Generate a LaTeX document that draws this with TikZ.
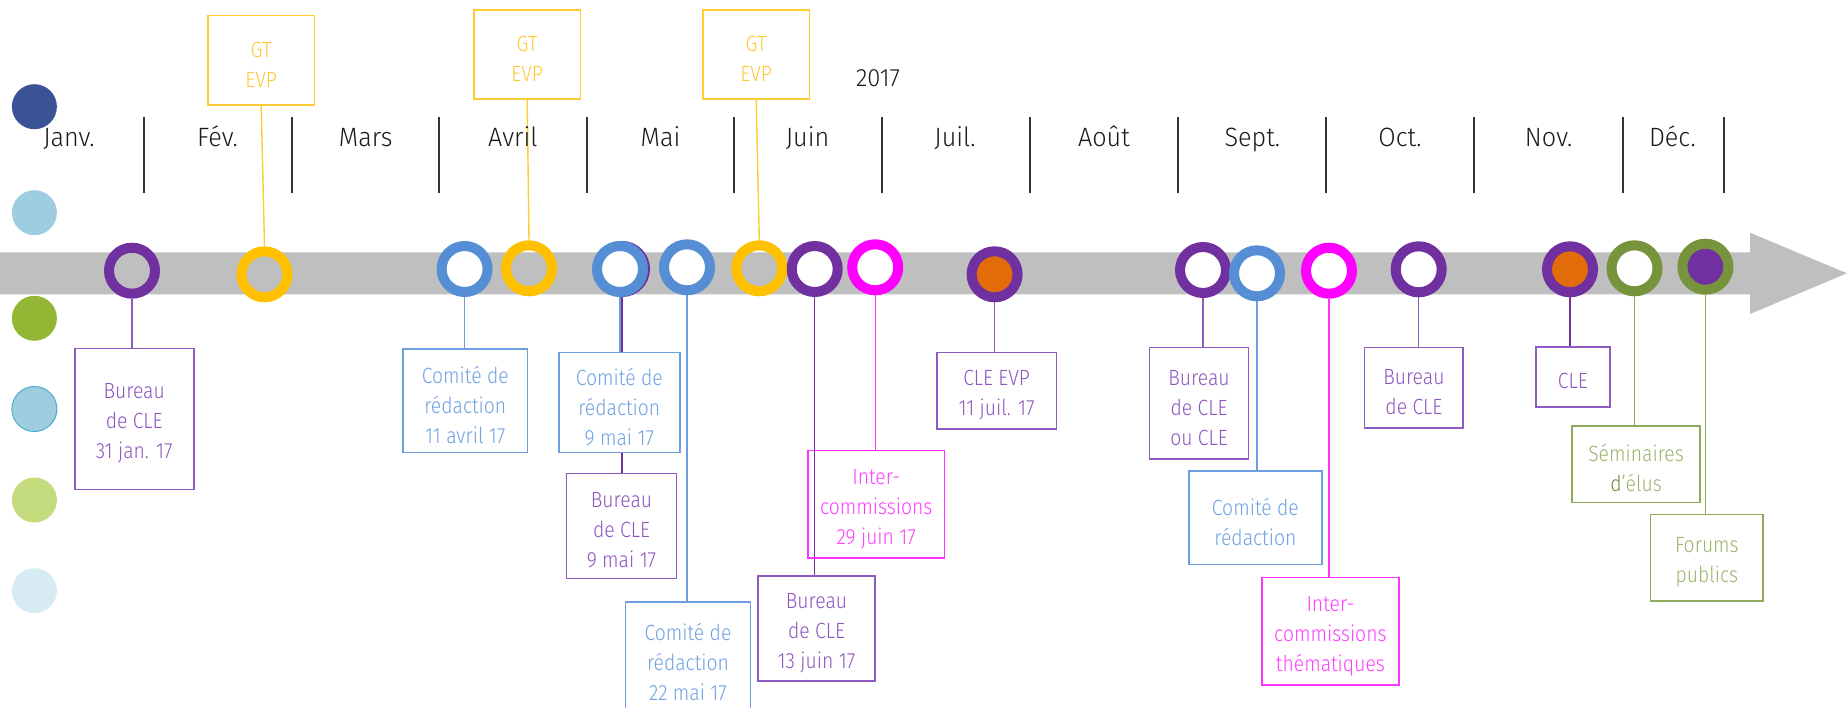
\documentclass[tikz,border=0pt]{standalone}
\usepackage{fontspec}
\setmainfont{Fira Sans Light}[FakeStretch=0.88]
\newfontfamily\monthfont{Fira Sans Light}[FakeStretch=0.95]
\usetikzlibrary{backgrounds}
\definecolor{purp}{HTML}{7030A0}
\definecolor{purpl}{HTML}{8E5CC0}
\definecolor{purpt}{HTML}{8D55BF}
\definecolor{blu}{HTML}{558ED5}
\definecolor{blul}{HTML}{6C9EE0}
\definecolor{blut}{HTML}{6FA2E2}
\definecolor{yel}{HTML}{FFC000}
\definecolor{yell}{HTML}{FFCC33}
\definecolor{yelt}{HTML}{FFC833}
\definecolor{mag}{HTML}{FF00FF}
\definecolor{magl}{HTML}{FF33FF}
\definecolor{magt}{HTML}{FF3DFF}
\definecolor{orng}{HTML}{E36C0A}
\definecolor{grn}{HTML}{77933C}
\definecolor{grnl}{HTML}{8FAA5C}
\definecolor{grnt}{HTML}{9CB46C}
\definecolor{grnd}{HTML}{6E8B2E}
\definecolor{barc}{HTML}{BFBFBF}
\definecolor{lgA}{HTML}{3A5396}
\definecolor{lgB}{HTML}{9ECDE0}
\definecolor{lgC}{HTML}{93B635}
\definecolor{lgD}{HTML}{9ECDE0}
\definecolor{lgDb}{HTML}{4BACC6}
\definecolor{lgE}{HTML}{C4DC7D}
\definecolor{lgF}{HTML}{D7EBF2}
\definecolor{monthc}{HTML}{1A1A1A}
\begin{document}
\begin{tikzpicture}[x=1pt,y=-1pt,
  ring/.style={circle, minimum size=46pt, inner sep=0pt, line width=10pt},
  box/.style={draw, line width=1.6pt, fill=white, inner sep=0pt},
  boxtxt/.style={align=center, inner sep=0pt, yshift=-4.5pt, font=\fontsize{22}{30}\selectfont},
  link/.style={line width=1.4pt},
  month/.style={anchor=base, font=\monthfont\fontsize{26.5}{30}\selectfont, text=monthc, inner sep=0pt},
  monthsep/.style={line width=2pt, black!80, dash pattern=on 1.5pt off 0.5pt},
  legend/.style={circle, minimum size=45pt, inner sep=0pt}]
\useasboundingbox (0,0) rectangle (1847,707);
\clip (0,0) rectangle (1847,707);

% timeline bar with arrow
\fill[barc] (0,252.3) -- (1750,252.3) -- (1750,232.7) -- (1847,273.3) -- (1750,314) -- (1750,294.3) -- (0,294.3) -- cycle;

% legend dots
\node[legend, fill=lgA] (l1) at (34.4,106.7) {};
\node[legend, fill=lgB] (l2) at (34.4,212.7) {};
\node[legend, fill=lgC] (l3) at (34.4,318.3) {};
\node[legend, fill=lgD, draw=lgDb, line width=1pt] (l4) at (34.4,409) {};
\node[legend, fill=lgE] (l5) at (34.4,500) {};
\node[legend, fill=lgF] (l6) at (34.4,590.7) {};

% month separators
\foreach \x in {144.3,291.8,438.9,586.8,734,882,1029.8,1177.7,1325.8,1474.4,1623,1724}
  \draw[monthsep] (\x,117) -- (\x,193);

% month names
\node[month] (m1) at (69,146.7) {Janv.};
\node[month] (m2) at (217.5,146.7) {Fév.};
\node[month] (m3) at (365.7,146.7) {Mars};
\node[month] (m4) at (512.8,146.7) {Avril};
\node[month] (m5) at (660.5,146.7) {Mai};
\node[month] (m6) at (807.6,146.7) {Juin};
\node[month] (m7) at (955,146.7) {Juil.};
\node[month] (m8) at (1104,146.7) {Août};
\node[month] (m9) at (1252.4,146.7) {Sept.};
\node[month] (m10) at (1400,146.7) {Oct.};
\node[month] (m11) at (1548.6,146.7) {Nov.};
\node[month] (m12) at (1672.4,146.7) {Déc.};
\node[month, font=\monthfont\fontsize{25}{30}\selectfont] (yr) at (878,86) {2017};

% rings
\node[ring, draw=purp] (r1) at (132,270.7) {};
\node[ring, draw=yel] (r2) at (264.5,274.3) {};
\node[ring, draw=blu, fill=white] (r3) at (464.6,269) {};
\node[ring, draw=yel] (r4) at (529,268.3) {};
\node[ring, draw=purp, fill=white] (r5p) at (622,269) {};
\node[ring, draw=blu, fill=white] (r5) at (620,269) {};
\node[ring, draw=blu, fill=white] (r6) at (687,267.3) {};
\node[ring, draw=yel] (r7) at (759.3,268.3) {};
\node[ring, draw=purp, fill=white] (r8) at (814.7,269) {};
\node[ring, draw=mag, fill=white] (r9) at (875.2,267.3) {};
\node[ring, draw=purp, fill=orng] (r10) at (994.6,274.3) {};
\node[ring, draw=purp, fill=white] (r11) at (1203,270) {};
\node[ring, draw=blu, fill=white] (r12) at (1257,273.3) {};
\node[ring, draw=mag, fill=white] (r13) at (1329,270.7) {};
\node[ring, draw=purp, fill=white] (r14) at (1418.7,269.3) {};
\node[ring, draw=purp, fill=orng] (r15) at (1570,269.3) {};
\node[ring, draw=grn, fill=white] (r16) at (1634.5,268.3) {};
\node[ring, draw=grn, fill=purp] (r17) at (1705.4,266.7) {};

% boxes (text set as centred label, lowered slightly)
\node[box, draw=yell, minimum width=106.4, minimum height=89.3, label={[boxtxt, text=yelt]center:{GT\\EVP}}] (g1) at (261.2,60.3) {};
\node[box, draw=yell, minimum width=106.4, minimum height=89.3, label={[boxtxt, text=yelt]center:{GT\\EVP}}] (g2) at (527.2,54.5) {};
\node[box, draw=yell, minimum width=106.4, minimum height=89.3, label={[boxtxt, text=yelt]center:{GT\\EVP}}] (g3) at (756.2,54.5) {};
\node[box, draw=purpl, minimum width=119, minimum height=141, label={[boxtxt, text=purpt]center:{Bureau\\de CLE\\31 jan. 17}}] (b1) at (134.2,418.9) {};
\node[box, draw=blul, minimum width=124.5, minimum height=103.6, label={[boxtxt, text=blut]center:{Comité de\\rédaction\\11 avril 17}}] (c11) at (465.3,400.5) {};
\node[box, draw=blul, minimum width=121.2, minimum height=99.8, label={[boxtxt, text=blut]center:{Comité de\\rédaction\\9 mai 17}}] (c9) at (619.3,402.4) {};
\node[box, draw=purpl, minimum width=109.7, minimum height=105, label={[boxtxt, text=purpt]center:{Bureau\\de CLE\\9 mai 17}}] (b9) at (621.5,525.8) {};
\node[box, draw=blul, minimum width=125.3, minimum height=112, label={[boxtxt, text=blut]center:{Comité de\\rédaction\\22 mai 17}}] (c22) at (688,657.7) {};
\node[box, draw=purpl, minimum width=116.6, minimum height=105, label={[boxtxt, text=purpt]center:{Bureau\\de CLE\\13 juin 17}}] (b13) at (816.5,628.5) {};
\node[box, draw=magl, fill=none, minimum width=136.4, minimum height=107.3, label={[boxtxt, text=magt]center:{Inter-\\commissions\\29 juin 17}}] (i29) at (876.2,504.3) {};
\node[box, draw=purpl, minimum width=119.4, minimum height=76.7, label={[boxtxt, text=purpt]center:{CLE EVP\\11 juil. 17}}] (evp) at (996.6,390.7) {};
\node[box, draw=purpl, minimum width=98.7, minimum height=111.3, label={[boxtxt, text=purpt]center:{Bureau\\de CLE\\ou CLE}}] (bou) at (1199,403.3) {};
\node[box, draw=blul, minimum width=133.3, minimum height=93.7, label={[boxtxt, text=blut]center:{Comité de\\rédaction}}] (cs) at (1255.4,517.8) {};
\node[box, draw=magl, minimum width=137, minimum height=107.3, label={[boxtxt, text=magt]center:{Inter-\\commissions\\thématiques}}] (it) at (1330.4,631.3) {};
\node[box, draw=purpl, minimum width=98.6, minimum height=80.4, label={[boxtxt, text=purpt]center:{Bureau\\de CLE}}] (bo) at (1413.9,387.5) {};
\node[box, draw=purpl, minimum width=73.8, minimum height=60, label={[boxtxt, text=purpt]center:{CLE}}] (cle) at (1572.8,376.7) {};
\node[box, draw=grnl, minimum width=127.5, minimum height=76.6, label={[boxtxt, text=grnt]center:{Séminaires\\{\color{grnd}d}’élus}}] (sem) at (1636,464) {};
\node[box, draw=grnl, minimum width=112.6, minimum height=86.4, label={[boxtxt, text=grnt]center:{Forums\\publics}}] (fp) at (1706.9,557.5) {};

% connectors (behind boxes)
\begin{scope}[on background layer]
\draw[link, yell] (g1.south) -- (r2.north);
\draw[link, yell] (g2.south) -- (r4.north);
\draw[link, yell] (g3.south) -- (r7.north);
\draw[link, purpl] (r1.south) -- (r1.south |- b1.north);
\draw[link, blul] (r3.south) -- (r3.south |- c11.north);
\draw[link, blul] (r5.south) -- (r5.south |- c9.north);
\draw[link, purp] (r5p.south) -- (r5p.south |- b9.north);
\draw[link, blul] (r6.south) -- (r6.south |- c22.north);
\draw[link, purp] (r8.south) -- (r8.south |- b13.north);
\draw[link, magl] (r9.south) -- (r9.south |- i29.north);
\draw[link, purpl] (r10.south) -- (r10.south |- evp.north);
\draw[link, purpl] (r11.south) -- (r11.south |- bou.north);
\draw[link, blul] (r12.south) -- (r12.south |- cs.north);
\draw[link, magl] (r13.south) -- (r13.south |- it.north);
\draw[link, purpl] (r14.south) -- (r14.south |- bo.north);
\draw[link, purp] (r15.south) -- (r15.south |- cle.north);
\draw[link, grnl] (r16.south) -- (r16.south |- sem.north);
\draw[link, grnl] (r17.south) -- (r17.south |- fp.north);
\end{scope}
\end{tikzpicture}
\end{document}
